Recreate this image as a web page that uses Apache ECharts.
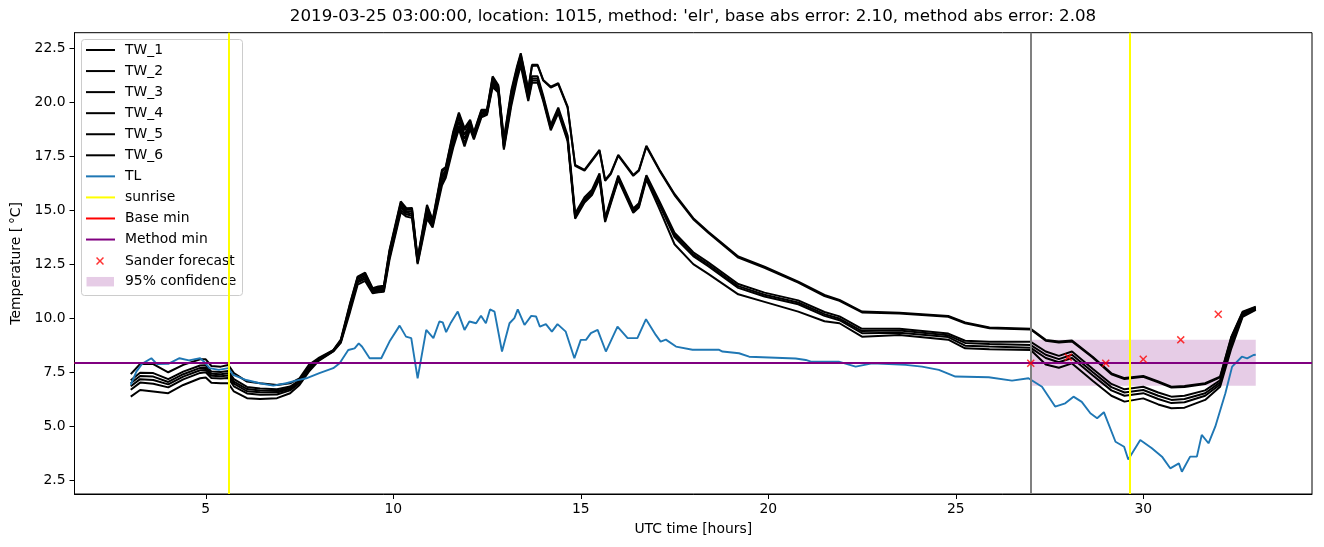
<!DOCTYPE html>
<html><head><meta charset="utf-8">
<script src="https://cdn.jsdelivr.net/npm/echarts@6/dist/echarts.min.js"></script>
<style>html,body{margin:0;padding:0;background:#fff}#c{width:1324px;height:547px}</style>
</head><body><div id="c"></div>
<script>
const hoursTW = [3.0,3.25,3.6,4.0,4.4,4.85,5.0,5.15,5.4,5.6,
5.75,6.1,6.45,6.9,7.25,7.5,7.75,8.0,8.4,8.6,
8.85,9.05,9.25,9.45,9.6,9.75,9.9,
10.2,10.35,10.5,10.65,10.9,11.05,
11.3,11.4,11.6,11.75,11.9,12.05,12.15,
12.35,12.5,12.65,12.8,12.95,13.15,13.3,13.4,
13.6,13.7,13.85,14.0,
14.2,14.4,14.65,14.85,15.1,
15.3,15.5,15.65,15.8,16.0,
16.4,16.55,16.75,17.1,
17.5,18.0,18.4,19.2,19.9,
20.8,21.5,21.9,22.5,23.5,
24.8,25.25,25.9,27.0,
27.4,27.75,28.1,28.65,29.15,29.5,
30.0,30.4,30.75,31.1,31.65,
32.05,32.35,32.65,33.0];

const TW_1 = [7.4,7.87,7.87,7.49,7.83,8.09,8.09,7.78,7.75,7.83,
7.45,7.06,6.98,6.9,6.98,7.21,7.83,8.14,8.52,9.0,
10.7,11.92,12.1,11.38,11.46,11.5,13.16,
15.4,15.09,15.1,12.77,15.24,14.55,
16.87,17.0,18.64,19.52,18.8,19.18,18.6,
19.65,19.65,21.2,20.8,18.3,20.57,21.65,22.27,
20.6,21.73,21.73,21.03,
20.72,20.88,19.8,17.1,16.87,
17.33,17.79,16.4,16.71,17.56,
16.63,16.86,17.98,16.87,
15.75,14.63,14.0,12.85,12.38,
11.69,11.07,10.84,10.3,10.25,
10.1,9.8,9.56,9.5,
8.99,8.91,8.96,8.21,7.44,7.22,
7.32,7.06,6.82,6.85,6.98,
7.29,9.14,10.3,10.53];

const TW_2 = [7.12,7.47,7.45,7.17,7.52,7.8,7.81,7.52,7.5,7.55,
7.17,6.81,6.74,6.7,6.83,7.11,7.73,8.1,8.5,8.95,
10.65,11.88,12.05,11.35,11.42,11.46,13.1,
15.33,15.03,15.04,12.73,15.15,14.5,
16.78,16.95,18.55,19.45,18.7,19.12,18.55,
19.6,19.62,21.12,20.75,18.22,20.45,21.58,22.2,
20.55,21.68,21.7,21.0,
20.68,20.84,19.75,17.05,16.83,
17.28,17.74,16.36,16.67,17.52,
16.59,16.82,17.94,16.83,
15.7,14.58,13.95,12.8,12.33,
11.64,11.02,10.8,10.26,10.21,
10.06,9.76,9.53,9.47,
8.95,8.87,8.92,8.17,7.4,7.18,
7.28,7.02,6.78,6.81,6.94,
7.25,9.1,10.26,10.5];

const TW_3 = [6.98,7.32,7.29,7.04,7.4,7.69,7.7,7.42,7.4,7.44,
7.06,6.71,6.64,6.62,6.77,7.07,7.69,8.08,8.49,8.93,
10.55,11.8,11.98,11.3,11.36,11.4,13.0,
15.22,14.95,14.95,12.68,15.0,14.42,
16.6,16.85,18.35,19.3,18.5,19.02,18.48,
19.52,19.58,21.0,20.68,18.1,20.3,21.45,22.05,
20.35,21.2,21.2,20.3,
18.95,19.75,18.45,14.85,15.6,
15.95,16.7,14.65,15.5,16.6,
15.08,15.32,16.62,15.4,
13.95,13.05,12.58,11.58,11.18,
10.82,10.28,10.08,9.5,9.5,
9.28,8.95,8.9,8.9,
8.45,8.25,8.45,7.65,6.95,6.7,
6.82,6.55,6.36,6.4,6.65,
7.12,8.95,10.2,10.46];

const TW_4 = [6.84,7.17,7.13,6.93,7.29,7.58,7.6,7.33,7.3,7.34,
6.96,6.61,6.56,6.55,6.71,7.04,7.65,8.06,8.48,8.91,
10.5,11.72,11.9,11.25,11.3,11.35,12.9,
15.12,14.88,14.85,12.62,14.88,14.35,
16.45,16.75,18.2,19.1,18.3,18.95,18.42,
19.45,19.52,20.9,20.6,17.98,20.15,21.32,21.95,
20.25,21.1,21.1,20.2,
18.85,19.65,18.35,14.75,15.5,
15.85,16.6,14.58,15.42,16.52,
15.0,15.25,16.56,15.32,
13.85,12.95,12.48,11.48,11.08,
10.72,10.18,9.98,9.4,9.42,
9.2,8.85,8.8,8.75,
8.3,8.1,8.3,7.5,6.8,6.55,
6.67,6.4,6.21,6.25,6.52,
7.02,8.85,10.15,10.43];

const TW_5 = [6.68,7.01,6.96,6.79,7.16,7.46,7.49,7.22,7.2,7.22,
6.84,6.51,6.45,6.46,6.65,6.99,7.61,8.04,8.47,8.89,
10.42,11.65,11.82,11.2,11.25,11.3,12.8,
15.0,14.8,14.75,12.56,14.75,14.28,
16.3,16.62,18.05,18.9,18.1,18.85,18.35,
19.38,19.47,20.8,20.52,17.88,20.0,21.2,21.82,
20.15,21.0,21.0,20.12,
18.78,19.58,18.28,14.68,15.42,
15.78,16.52,14.52,15.36,16.46,
14.94,15.18,16.5,15.25,
13.75,12.87,12.4,11.4,11.0,
10.64,10.1,9.9,9.3,9.32,
9.12,8.72,8.68,8.62,
8.15,7.95,8.15,7.35,6.65,6.4,
6.52,6.25,6.06,6.1,6.4,
6.92,8.75,10.1,10.4];

const TW_6 = [6.36,6.67,6.6,6.52,6.9,7.21,7.25,7.0,6.98,6.98,
6.6,6.29,6.25,6.29,6.52,6.9,7.52,8.0,8.45,8.85,
10.3,11.55,11.72,11.15,11.2,11.22,12.7,
14.9,14.7,14.65,12.5,14.6,14.2,
16.15,16.5,17.9,18.75,17.95,18.75,18.28,
19.3,19.42,20.7,20.45,17.8,19.85,21.05,21.7,
20.05,20.9,20.9,20.05,
18.7,19.5,18.2,14.6,15.35,
15.7,16.45,14.45,15.3,16.4,
14.88,15.12,16.42,15.05,
13.42,12.5,12.05,11.1,10.75,
10.3,9.85,9.76,9.14,9.22,
9.0,8.6,8.55,8.52,
7.85,7.7,7.9,7.1,6.4,6.13,
6.28,6.0,5.82,5.85,6.21,
6.82,8.6,10.05,10.38];

const hoursTL = [3.0,3.15,3.3,3.55,3.7,4.0,4.3,4.55,4.85,4.97,5.1,5.35,5.6,5.73,6.08,6.44,6.8,7.15,7.4,7.68,
8.03,8.4,8.57,8.8,8.97,9.08,9.17,9.37,9.68,9.9,10.17,10.34,10.48,10.65,10.88,11.07,11.23,11.32,11.41,11.54,
11.72,11.9,12.03,12.21,12.34,12.47,12.58,12.7,12.9,13.1,13.23,13.32,13.5,13.68,13.81,13.91,14.07,14.23,14.38,14.6,
14.83,15.0,15.14,15.27,15.45,15.67,15.98,16.25,16.51,16.74,17.0,17.13,17.27,17.54,17.98,18.69,18.78,19.22,19.49,20.73,
21.0,21.14,21.88,22.33,22.77,23.66,24.1,24.55,24.99,25.88,26.5,26.94,27.3,27.65,27.92,28.14,28.36,28.59,28.77,28.95,29.26,
29.49,29.6,29.92,30.23,30.5,30.72,30.95,31.03,31.25,31.43,31.56,31.74,31.92,32.19,32.37,32.63,32.77,32.94,33.0];
const TL = [6.9,7.52,7.88,8.14,7.87,7.88,8.14,8.04,8.14,7.95,7.68,7.6,7.68,7.37,7.13,6.98,6.87,6.98,7.1,7.21,
7.45,7.68,7.91,8.52,8.6,8.83,8.67,8.14,8.14,8.91,9.65,9.14,9.07,7.21,9.45,9.07,9.84,9.8,9.35,9.8,
10.3,9.45,9.84,9.76,10.11,9.76,10.4,10.3,8.45,9.76,10.0,10.4,9.68,10.1,10.07,9.6,9.72,9.37,9.72,9.37,
8.14,8.99,8.99,9.3,9.45,8.45,9.6,9.07,9.07,9.95,9.22,8.91,9.0,8.68,8.53,8.53,8.45,8.37,8.21,8.13,
8.06,7.98,7.98,7.75,7.9,7.83,7.75,7.6,7.29,7.26,7.1,7.21,6.82,5.9,6.05,6.36,6.12,5.59,5.36,5.64,4.27,
4.04,3.45,4.35,3.97,3.58,3.04,3.27,2.88,3.58,3.58,4.59,4.2,4.97,6.52,7.75,8.21,8.13,8.29,8.3];

const sunriseHours = [5.61, 29.63];
const forecastStartHour = [27.0];
const baseMin = [7.92];
const methodMin = [7.92];
const sanderHours = [27, 28, 29, 30, 31, 32];
const sanderValues = [7.91, 8.19, 7.91, 8.09, 8.99, 10.18];
const confHours = [27, 33];
const confRange = [6.87, 8.99];
const xTicks = [5, 10, 15, 20, 25, 30];
const yTicks = [2.5, 5, 7.5, 10, 12.5, 15, 17.5, 20, 22.5];

const FONT = 'DejaVu Sans';
const chart = echarts.init(document.getElementById('c'), null, {renderer: 'canvas'});
const twNames = ['TW_1','TW_2','TW_3','TW_4','TW_5','TW_6'];
const twData = [TW_1, TW_2, TW_3, TW_4, TW_5, TW_6];
const xPath = 'path://M1.3,0L5,3.7L8.7,0L10,1.3L6.3,5L10,8.7L8.7,10L5,6.3L1.3,10L0,8.7L3.7,5L0,1.3Z';

const series = [];
twNames.forEach((n, k) => {
  series.push({type: 'line', name: n, data: hoursTW.map((h, i) => [h, twData[k][i]]),
    symbol: 'none', showSymbol: false, z: 2,
    lineStyle: {color: '#000', width: 2}, itemStyle: {color: '#000'}});
});
series.push({type: 'line', name: 'TL', data: hoursTL.map((h, i) => [h, TL[i]]),
  symbol: 'none', showSymbol: false, z: 3,
  lineStyle: {color: '#1f77b4', width: 1.9}, itemStyle: {color: '#1f77b4'}});
series.push({type: 'line', name: 'sunrise', data: [], itemStyle: {color: '#ffff00'},
  markLine: {silent: true, symbol: 'none', z: 12, label: {show: false},
    lineStyle: {color: '#ffff00', width: 2, type: 'solid'},
    data: sunriseHours.map(h => ({xAxis: h}))}});
series.push({type: 'line', name: 'forecast start', data: [], itemStyle: {color: '#808080'},
  markLine: {silent: true, symbol: 'none', z: 5, label: {show: false},
    lineStyle: {color: '#808080', width: 2, type: 'solid'},
    data: forecastStartHour.map(h => ({xAxis: h}))}});
series.push({type: 'line', name: 'Base min', data: [], itemStyle: {color: '#ff0000'},
  markLine: {silent: true, symbol: 'none', z: 6, label: {show: false},
    lineStyle: {color: '#ff0000', width: 2, type: 'solid'},
    data: baseMin.map(v => ({yAxis: v}))}});
series.push({type: 'line', name: 'Method min', data: [], itemStyle: {color: '#800080'},
  markLine: {silent: true, symbol: 'none', z: 7, label: {show: false},
    lineStyle: {color: '#800080', width: 2, type: 'solid'},
    data: methodMin.map(v => ({yAxis: v}))}});
series.push({type: 'scatter', name: 'Sander forecast', z: 8,
  data: sanderHours.map((h, i) => [h, sanderValues[i]]),
  symbol: xPath, symbolSize: 8, itemStyle: {color: '#ff0000'}});
series.push({type: 'line', name: '95% confidence', data: [], itemStyle: {color: 'rgba(128,0,128,0.2)'},
  markArea: {silent: true, z: 1, itemStyle: {color: 'rgba(128,0,128,0.2)'},
    data: [[{xAxis: confHours[0], yAxis: confRange[0]}, {xAxis: confHours[1], yAxis: confRange[1]}]]}});

const legText = (pad) => ({fontFamily: FONT, fontSize: 13.9, color: '#000', lineHeight: 16, padding: [0, 0, 0, pad]});

chart.setOption({
  animation: false,
  backgroundColor: '#fff',
  title: {text: "2019-03-25 03:00:00, location: 1015, method: 'elr', base abs error: 2.10, method abs error: 2.08",
    left: 693, top: 8, textAlign: 'center', padding: 0,
    textStyle: {fontFamily: FONT, fontSize: 16.7, fontWeight: 'normal', color: '#000'}},
  grid: {left: 74.5, right: 12, top: 32.7, bottom: 53, show: true, borderColor: '#000', borderWidth: 1, backgroundColor: 'transparent'},
  xAxis: {type: 'value', min: 1.5, max: 34.5,
    name: 'UTC time [hours]', nameLocation: 'middle', nameGap: 28,
    nameTextStyle: {fontFamily: FONT, fontSize: 13.9, color: '#000'},
    axisLine: {show: true, lineStyle: {color: '#000', width: 1}},
    axisTick: {show: true, inside: false, length: 5, lineStyle: {color: '#000', width: 1}, customValues: xTicks},
    axisLabel: {customValues: xTicks, margin: 8, fontFamily: FONT, fontSize: 13.9, color: '#000'},
    splitLine: {show: false}},
  yAxis: {type: 'value', min: 1.85, max: 23.22,
    name: 'Temperature [\u2009°C]', nameLocation: 'middle', nameGap: 50, nameRotate: 90,
    nameTextStyle: {fontFamily: FONT, fontSize: 13.9, color: '#000'},
    axisLine: {show: true, lineStyle: {color: '#000', width: 1}},
    axisTick: {show: true, inside: false, length: 5, lineStyle: {color: '#000', width: 1}, customValues: yTicks},
    axisLabel: {customValues: yTicks, margin: 9, fontFamily: FONT, fontSize: 13.9, color: '#000',
      formatter: v => v.toFixed(1)},
    splitLine: {show: false}},
  graphic: [{type: 'rect', z: 9, silent: true,
    shape: {x: 81.5, y: 39.5, width: 161, height: 256, r: 3},
    style: {fill: 'rgba(255,255,255,0.8)', stroke: '#cccccc', lineWidth: 1}}],
  legend: [
    {data: twNames.concat(['TL', 'sunrise', 'Base min', 'Method min']),
      orient: 'vertical', left: 86, top: 42, padding: 0, z: 10,
      itemWidth: 29, itemHeight: 2, icon: 'rect', itemGap: 5.06, selectedMode: false,
      textStyle: legText(5)},
    {data: [{name: 'Sander forecast', icon: xPath}],
      orient: 'vertical', left: 96, top: 253, padding: 0, z: 10,
      itemWidth: 8, itemHeight: 8, selectedMode: false, textStyle: legText(16)},
    {data: [{name: '95% confidence', icon: 'rect'}],
      orient: 'vertical', left: 86.5, top: 273.7, padding: 0, z: 10,
      itemWidth: 27.5, itemHeight: 9.5, selectedMode: false, textStyle: legText(6)}
  ],
  series: series
});
</script></body></html>
